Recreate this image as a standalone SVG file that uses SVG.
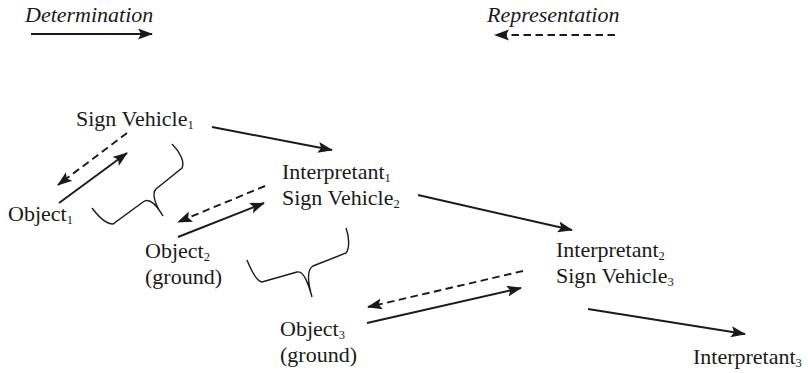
<svg xmlns="http://www.w3.org/2000/svg" width="808" height="373" viewBox="0 0 808 373">
<style>
text{font-family:"Liberation Serif","Times New Roman",serif;font-size:22px;fill:#1a1a1a}
.it{font-style:italic}
.sub{font-size:12.5px}
.c{stroke:#1a1a1a;stroke-width:1.9;fill:none}
.d{stroke-dasharray:7.5 4.5}
.br{stroke:#1a1a1a;stroke-width:1.4;fill:none}
</style>
<defs>
<marker id="ah" markerUnits="userSpaceOnUse" markerWidth="16" markerHeight="12" refX="14" refY="5.5" orient="auto">
<path d="M0,0 L15,5.5 L0,11 L3,5.5 Z" fill="#1a1a1a"/>
</marker>
</defs>
<rect width="808" height="373" fill="#fff"/>
<g id="legend">
<text class="it" x="25" y="22">Determination</text>
<text class="it" x="487" y="22">Representation</text>
<line class="c" x1="31" y1="34" x2="152" y2="34" marker-end="url(#ah)"/>
<line class="c d" x1="615" y1="35" x2="495" y2="35" marker-end="url(#ah)"/>
</g>
<g id="sv1"><text x="76" y="126">Sign Vehicle<tspan class="sub" dy="3">1</tspan></text></g>
<g id="obj1"><text x="8" y="221">Object<tspan class="sub" dy="3">1</tspan></text></g>
<g id="int1sv2"><text x="282" y="179">Interpretant<tspan class="sub" dy="3">1</tspan></text><text x="282" y="204.5">Sign Vehicle<tspan class="sub" dy="3">2</tspan></text></g>
<g id="obj2"><text x="145" y="258">Object<tspan class="sub" dy="3">2</tspan></text><text x="145" y="283.5">(ground)</text></g>
<g id="int2sv3"><text x="556" y="257">Interpretant<tspan class="sub" dy="3">2</tspan></text><text x="556" y="282.5">Sign Vehicle<tspan class="sub" dy="3">3</tspan></text></g>
<g id="obj3"><text x="280" y="336">Object<tspan class="sub" dy="3">3</tspan></text><text x="280" y="361.5">(ground)</text></g>
<g id="int3"><text x="693" y="364">Interpretant<tspan class="sub" dy="3">3</tspan></text></g>
<g id="connectors">
<line class="c" x1="212" y1="127" x2="332" y2="150" marker-end="url(#ah)"/>
<line class="c" x1="418" y1="195" x2="572" y2="230" marker-end="url(#ah)"/>
<line class="c" x1="588" y1="309" x2="745" y2="334" marker-end="url(#ah)"/>
<line class="c" x1="59" y1="203" x2="127" y2="153" marker-end="url(#ah)"/>
<line class="c d" x1="127" y1="133" x2="58" y2="185" marker-end="url(#ah)"/>
<line class="c" x1="178" y1="237" x2="264" y2="203" marker-end="url(#ah)"/>
<line class="c d" x1="265" y1="186" x2="178" y2="222" marker-end="url(#ah)"/>
<line class="c" x1="367" y1="323" x2="521" y2="288" marker-end="url(#ah)"/>
<line class="c d" x1="523" y1="271" x2="368" y2="307" marker-end="url(#ah)"/>
</g>
<g id="braces">
<path class="br" d="M172,144 C180,152 185,162 182,168 L156,189 C151,194 156,206 163,216 M92,208 C98,216 105,224 113,224 L143,202 C150,197 157,206 163,216"/>
<path class="br" d="M346,228 C349,236 350,248 346,253 L313,266 C306,270 308,283 312,297 M247,260 C251,270 256,281 262,282 L297,272 C304,270 309,286 312,297"/>
</g>
</svg>
